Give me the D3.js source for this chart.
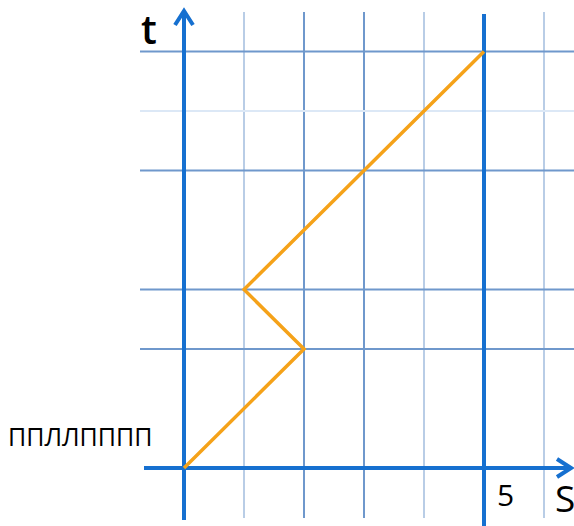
<!DOCTYPE html>
<html><head><meta charset="utf-8">
<script src="https://cdn.jsdelivr.net/npm/d3@7"></script>
<style>html,body{margin:0;padding:0;background:#fff;}svg{display:block;}</style>
</head><body>
<svg id="c" width="574" height="526"></svg>
<script>
// data
const pathS = [0, 2, 1, 5];
const pathT = [0, 2, 3, 7];
const gridS = [1, 2, 3, 4, 6];
const gridSStyle = ["light", "mid", "mid", "light", "light"];
const gridT = [2, 3, 5, 6, 7];
const gridTStyle = ["mid", "mid", "mid", "faint", "mid"];
const markS = [5];
const tickLabel = "5";
const xTitle = "S";
const yTitle = "t";
const note = "ППЛЛПППП";

const svg = d3.select("#c");
const x = d3.scaleLinear().domain([0, 5]).range([184, 484]);
const y = d3.scaleLinear().domain([0, 7]).range([468, 51.5]);
const colors = {faint: "#dce8f6", light: "#b9cde6", mid: "#6f98cc"};
const axisBlue = "#1670d0";

// vertical grid
svg.selectAll("line.gv").data(gridS).join("line")
  .attr("x1", d => x(d)).attr("x2", d => x(d))
  .attr("y1", 12).attr("y2", 518)
  .attr("stroke", (d, i) => colors[gridSStyle[i]]).attr("stroke-width", 2);
// horizontal grid
svg.selectAll("line.gh").data(gridT).join("line")
  .attr("x1", 140).attr("x2", 574)
  .attr("y1", d => y(d)).attr("y2", d => y(d))
  .attr("stroke", (d, i) => colors[gridTStyle[i]]).attr("stroke-width", 2);

// marker line at S=5
svg.selectAll("line.m").data(markS).join("line")
  .attr("x1", d => x(d)).attr("x2", d => x(d))
  .attr("y1", 14).attr("y2", 526)
  .attr("stroke", axisBlue).attr("stroke-width", 4);

// axes
svg.append("line").attr("x1", x(0)).attr("x2", x(0)).attr("y1", 520).attr("y2", 11)
  .attr("stroke", axisBlue).attr("stroke-width", 4);
svg.append("polyline").attr("points", `${x(0)-9},25 ${x(0)},11 ${x(0)+9},25`)
  .attr("fill", "none").attr("stroke", axisBlue).attr("stroke-width", 4).attr("stroke-linejoin", "miter");
svg.append("line").attr("x1", 144).attr("x2", 571).attr("y1", y(0)).attr("y2", y(0))
  .attr("stroke", axisBlue).attr("stroke-width", 4);
svg.append("polyline").attr("points", `557,${y(0)-9} 571,${y(0)} 557,${y(0)+9}`)
  .attr("fill", "none").attr("stroke", axisBlue).attr("stroke-width", 4);

// path
const line = d3.line().x(d => x(d[0])).y(d => y(d[1]));
svg.append("path").datum(pathS.map((s, i) => [s, pathT[i]]))
  .attr("d", line).attr("fill", "none").attr("stroke", "#f5a219")
  .attr("stroke-width", 3.5).attr("stroke-linejoin", "miter");

// texts
const font = "'Open Sans', 'Noto Sans', sans-serif";
svg.append("text").attr("x", 141).attr("y", 44).text(yTitle)
  .attr("font-family", font).attr("font-size", 40).attr("font-weight", 600).attr("fill", "#000");
svg.append("text").attr("x", 497).attr("y", 506).text(tickLabel)
  .attr("font-family", font).attr("font-size", 30).attr("fill", "#000");
svg.append("text").attr("x", 555).attr("y", 512).text(xTitle)
  .attr("font-family", font).attr("font-size", 37).attr("fill", "#000");
svg.append("text").attr("x", 8).attr("y", 446).text(note)
  .attr("font-family", font).attr("font-size", 25).attr("fill", "#000");
</script>
</body></html>
